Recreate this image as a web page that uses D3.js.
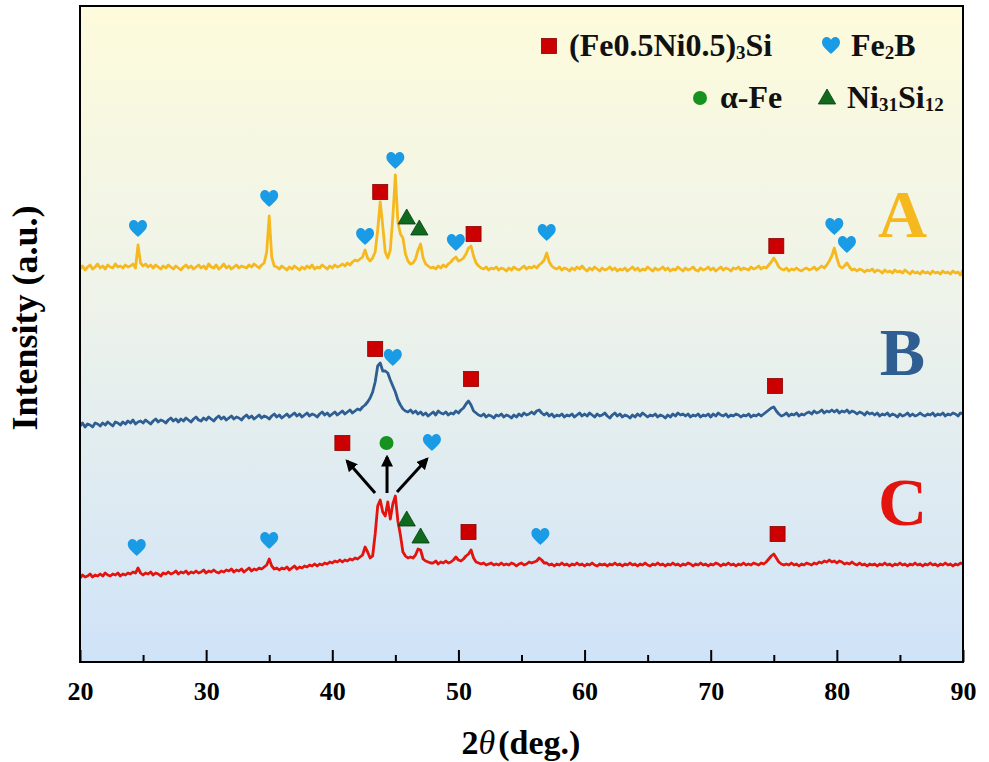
<!DOCTYPE html>
<html>
<head>
<meta charset="utf-8">
<script src="https://cdn.jsdelivr.net/npm/d3@7/dist/d3.min.js"></script>
<style>
html,body{margin:0;padding:0;background:#fff;}
svg{display:block;}
text{font-family:"Liberation Serif","Times New Roman",serif;font-weight:bold;}
</style>
</head>
<body>
<script>
// ---------- DATA ----------
const majorTicks = [20, 30, 40, 50, 60, 70, 80, 90];
const minorTicks = [25, 35, 45, 55, 65, 75, 85];

// scans: 2theta from 20 to 90 deg, step 0.2 deg; stacked intensity (a.u.)
const twoThetaStart = 20, twoThetaStep = 0.2;

const intensityA = [
393,396,392,395,397, 393,395,398,394,396, 393,397,395,394,398, 395,396,394,397,395,
396,398,394,417,399, 396,398,395,397,394, 397,395,393,396,394, 397,395,393,396,394,
392,395,397,394,396, 393,395,397,394,396, 393,398,395,394,397, 393,395,398,394,396,
393,395,397,394,396, 395,394,397,395,398, 396,394,397,399,410, 446,405,396,395,393,
396,394,392,395,393, 396,394,392,395,393, 396,394,397,393,395, 394,397,395,393,396,
394,397,395,396,398, 396,399,397,400,402, 401,403,405,412,404, 401,404,410,432,460,
436,410,404,412,445, 487,440,428,424,408, 401,398,399,403,412, 418,404,398,396,394,
395,393,396,394,397, 395,398,400,403,405, 401,402,404,408,414, 416,406,399,396,394,
393,395,392,394,393, 395,392,394,393,391, 394,392,395,393,392, 394,396,393,395,394,
396,394,397,399,402, 409,400,396,394,393, 395,392,394,393,391, 394,392,395,393,396,
393,391,394,392,395, 393,391,394,392,393, 395,392,394,391,393, 392,394,391,393,395,
392,394,391,393,392, 395,393,391,394,392, 393,395,392,394,391, 393,392,395,393,391,
394,392,393,395,392, 391,394,392,393,395, 392,394,391,393,395, 392,394,393,391,394,
393,395,392,394,393, 392,395,393,394,396, 393,395,394,397,400, 404,400,395,393,392,
394,391,393,392,394, 392,391,393,394,392, 393,395,392,394,396, 394,397,401,406,414,
404,396,394,396,399, 395,392,393,391,393, 392,390,392,391,393, 390,392,391,389,392,
390,391,389,392,390, 391,389,392,390,388, 391,389,390,388,391, 389,390,388,391,389,
390,388,391,389,390, 388,391,389,390,387, 392];

const intensityB = [
236,239,235,238,237, 235,239,238,236,239, 237,240,238,236,240, 239,237,240,238,241,
239,242,238,240,241, 239,242,240,238,241, 243,240,242,241,239, 242,244,241,243,240,
243,241,244,242,240, 243,245,242,241,244, 242,245,243,241,244, 246,243,245,242,244,
246,243,245,244,242, 245,247,244,246,243, 245,247,244,246,245, 243,246,248,245,247,
244,246,248,245,247, 249,246,248,245,247, 249,246,248,247,245, 248,250,247,249,246,
248,250,247,249,251, 248,250,252,249,251, 253,252,255,257,260, 264,270,280,296,299,
291,291,289,282,276, 270,262,257,253,251, 250,252,249,251,248, 250,247,249,246,248,
250,247,251,249,248, 250,247,249,248,251, 249,252,254,258,261, 257,251,249,247,246,
248,245,247,246,244, 247,246,248,245,247, 246,244,247,245,248, 246,249,247,248,250,
248,251,252,249,247, 249,246,248,245,247, 246,248,245,247,246, 248,245,247,249,246,
248,246,249,247,245, 248,246,247,249,246, 244,247,249,246,248, 245,247,246,244,247,
245,248,246,249,247, 245,247,246,248,245, 247,246,244,247,245, 248,246,249,247,248,
246,248,245,247,246, 248,245,247,246,248, 245,248,246,249,247, 246,248,245,247,246,
248,247,245,247,246, 248,245,247,246,248, 246,248,250,252,254, 255,251,248,246,247,
249,246,248,247,249, 246,248,247,249,250, 248,251,249,250,252, 249,251,250,252,250,
252,249,251,250,252, 249,251,250,248,250, 249,247,250,248,249, 247,249,246,248,247,
249,246,248,247,245, 248,246,247,249,246, 248,246,247,249,247, 246,248,247,249,246,
248,247,249,246,248, 247,249,248,246,249, 248];

const intensityC = [
84,87,85,86,88, 85,87,86,88,86, 89,87,86,88,87, 89,86,88,87,89,
88,90,89,94,89, 87,89,88,90,87, 89,88,86,89,88, 90,88,89,91,88,
90,89,91,88,90, 89,91,89,90,92, 89,91,90,92,90, 89,91,90,92,91,
93,90,92,91,93, 90,92,94,91,93, 92,94,93,95,97, 103,96,93,94,92,
94,93,95,92,94, 96,93,95,94,96, 95,97,96,98,96, 98,97,99,98,100,
99,101,100,102,100, 102,101,103,102,104, 103,105,107,115,110, 104,106,128,156,162,
150,146,160,143,158, 166,141,127,110,106, 104,105,104,107,113, 112,103,101,100,99,
99,101,98,100,99, 101,99,100,102,105, 102,101,103,106,108, 112,104,100,99,98,
99,97,98,99,97, 98,97,99,97,98, 97,99,98,96,98, 99,97,98,100,99,
100,101,104,102,99, 99,97,98,96,98, 97,99,97,98,96, 98,97,99,97,98,
96,98,97,99,97, 96,98,97,98,96, 98,97,99,97,98, 96,98,97,99,97,
98,96,98,97,99, 97,96,98,97,99, 97,98,96,98,97, 99,97,98,96,98,
97,99,98,96,98, 97,99,97,98,96, 98,97,99,98,96, 98,97,99,97,98,
96,98,97,99,97, 98,97,99,98,97, 99,98,100,103,106, 108,104,100,98,97,
98,97,99,97,98, 96,98,97,99,98, 97,99,98,100,99, 101,100,102,100,101,
99,101,100,98,99, 98,100,98,97,99, 97,98,96,98,97, 98,96,98,97,99,
97,98,96,98,97, 99,97,98,96,98, 97,99,97,98,96, 98,97,99,97,98,
96,98,97,99,97, 98,96,98,97,99, 98];

const seriesNames = ["A", "B", "C"];
const seriesColors = ["#f6b81f", "#2f5e93", "#e3130d"];
const labelPos = [[85.2, 425], [85.2, 287], [85.2, 137]];

// phase markers: [type, 2theta, intensity]
const markersA = [["heart",24.6,433],["heart",35.0,463],["heart",42.6,425],["square",43.8,470],["heart",45.0,501],["tri",45.9,444],["tri",46.9,433],["heart",49.8,419],["square",51.2,428],["heart",57.0,429],["square",75.2,416],["heart",79.8,435],["heart",80.8,417]];
const markersB = [["square",43.4,313],["heart",44.8,304],["square",51.0,283],["square",75.1,276]];
const markersC = [["square",40.8,219],["circle",44.3,219],["heart",47.9,219],["tri",45.9,142],["tri",47.0,125],["square",50.8,130],["heart",56.5,125],["heart",24.5,114],["heart",35.0,121],["square",75.3,128]];
// arrows for C: [x1,y1,x2,y2]
const arrowsC = [[43.39,169,41.17,201],[44.34,169,44.34,205],[45.13,170,47.51,203]];

const legendItems = [
  {type:"square", label:["(Fe0.5Ni0.5)","3","Si"], x:549, y:46},
  {type:"heart", label:["Fe","2","B"], x:831, y:46},
  {type:"circle", label:["α-Fe"], x:700, y:98},
  {type:"tri", label:["Ni","31","Si","12"], x:827, y:98}
];

// ---------- CHART ----------
const W = 989, H = 762;
const L = 80, R = 963, T = 6, B = 662;
const svg = d3.select("body").append("svg").attr("width", W).attr("height", H);

const x = d3.scaleLinear().domain([20, 90]).range([L, R]);
const y = d3.scaleLinear().domain([0, 656]).range([B, T]);

const toPairs = arr => arr.map((v, i) => [twoThetaStart + i * twoThetaStep, v]);
const series = [toPairs(intensityA), toPairs(intensityB), toPairs(intensityC)];

const defs = svg.append("defs");
const grad = defs.append("linearGradient").attr("id","bg").attr("x1",0).attr("y1",0).attr("x2",0).attr("y2",1);
grad.append("stop").attr("offset","0%").attr("stop-color","#fdfbdb");
grad.append("stop").attr("offset","45%").attr("stop-color","#eef3ea");
grad.append("stop").attr("offset","100%").attr("stop-color","#cfe3f8");
defs.append("marker").attr("id","arr").attr("viewBox","0 0 10 10").attr("refX",8).attr("refY",5)
  .attr("markerWidth",4).attr("markerHeight",4).attr("orient","auto")
  .append("path").attr("d","M0,0L10,5L0,10Z").attr("fill","#000");

svg.append("rect").attr("x",L).attr("y",T).attr("width",R-L).attr("height",B-T).attr("fill","url(#bg)");

// traces
const line = d3.line().x(d => x(d[0])).y(d => y(d[1]));
series.forEach((s, i) => {
  svg.append("path").datum(s).attr("d", line).attr("fill","none")
    .attr("stroke", seriesColors[i]).attr("stroke-width", 2.8).attr("stroke-linejoin","round");
});

// marker shapes
const heartPath = "M0,8 C-2,5.5 -9,1 -9,-3.6 C-9,-7.2 -6.3,-9 -4.3,-9 C-2.2,-9 -0.6,-7.6 0,-6 C0.6,-7.6 2.2,-9 4.3,-9 C6.3,-9 9,-7.2 9,-3.6 C9,1 2,5.5 0,8Z";
function drawMarker(g, type, cx, cy) {
  if (type === "heart") {
    g.append("path").attr("d", heartPath).attr("transform", `translate(${cx},${cy})`).attr("fill","#1a9be6");
  } else if (type === "square") {
    g.append("rect").attr("x", cx-7.5).attr("y", cy-7.5).attr("width",15).attr("height",15)
      .attr("fill","#cc0000").attr("stroke","#8a0000").attr("stroke-width",0.8);
  } else if (type === "tri") {
    g.append("path").attr("d", d3.symbol().type(d3.symbolTriangle).size(130)()).attr("transform", `translate(${cx},${cy+1})`)
      .attr("fill","#0f6a1e").attr("stroke","#043d0c").attr("stroke-width",0.8);
  } else if (type === "circle") {
    g.append("circle").attr("cx",cx).attr("cy",cy).attr("r",7).attr("fill","#16921e");
  }
}
const mg = svg.append("g");
[markersA, markersB, markersC].forEach(ms => ms.forEach(m => drawMarker(mg, m[0], x(m[1]), y(m[2]))));

arrowsC.forEach(a => {
  svg.append("line").attr("x1",x(a[0])).attr("y1",y(a[1])).attr("x2",x(a[2])).attr("y2",y(a[3]))
    .attr("stroke","#000").attr("stroke-width",3).attr("marker-end","url(#arr)");
});

// series labels
seriesNames.forEach((n, i) => {
  svg.append("text").attr("x", x(labelPos[i][0])).attr("y", y(labelPos[i][1]))
    .attr("text-anchor","middle").attr("font-size",68).attr("fill", seriesColors[i]).text(n);
});

// legend
legendItems.forEach(it => {
  drawMarker(svg, it.type, it.x, it.y);
  const t = svg.append("text").attr("x", it.x + 20).attr("y", it.y + 10).attr("font-size", 32).attr("fill","#111");
  it.label.forEach((s, k) => {
    const sub = k % 2 === 1;
    t.append("tspan").attr("font-size", sub ? 19 : 32).attr("dy", sub ? 3 : (k > 0 ? -3 : 0)).text(s);
  });
});

// frame & axes
svg.append("rect").attr("x",L).attr("y",T).attr("width",R-L).attr("height",B-T)
  .attr("fill","none").attr("stroke","#000").attr("stroke-width",2);

const ax = svg.append("g").attr("transform",`translate(0,${B})`)
  .call(d3.axisBottom(x).tickValues(majorTicks).tickSize(-12).tickPadding(20).tickFormat(d3.format("d")));
ax.select(".domain").remove();
ax.selectAll(".tick line").attr("stroke","#000").attr("stroke-width",2);
ax.selectAll(".tick text").attr("font-size",26).attr("fill","#000");
const axm = svg.append("g").attr("transform",`translate(0,${B})`)
  .call(d3.axisBottom(x).tickValues(minorTicks).tickSize(-7).tickFormat(""));
axm.select(".domain").remove();
axm.selectAll(".tick line").attr("stroke","#000").attr("stroke-width",2);

// axis titles
const xt = svg.append("text").attr("x", 521).attr("y", 754).attr("text-anchor","middle").attr("font-size",34).attr("fill","#000");
xt.append("tspan").text("2");
xt.append("tspan").attr("font-style","italic").attr("font-weight","normal").text("θ");
xt.append("tspan").attr("dx",3).text("(deg.)");

svg.append("text").attr("transform","translate(37,318) rotate(-90)").attr("text-anchor","middle")
  .attr("font-size",36).attr("fill","#000").text("Intensity (a.u.)");
</script>
</body>
</html>
